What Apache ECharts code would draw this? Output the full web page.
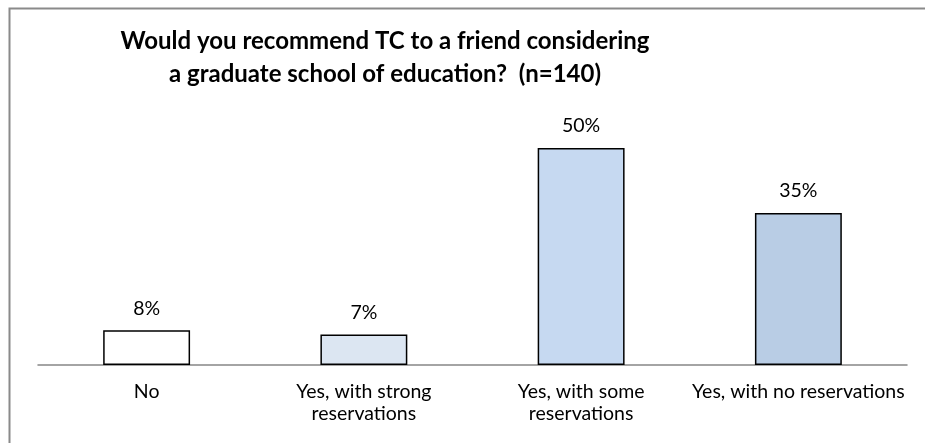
<!DOCTYPE html>
<html>
<head>
<meta charset="utf-8">
<script src="https://cdn.jsdelivr.net/npm/echarts@6/dist/echarts.min.js"></script>
<style>
html,body{margin:0;padding:0;background:#fff;}
#chart{width:925px;height:443px;}
</style>
</head>
<body>
<div id="chart"></div>
<script>
const categories = ['No', 'Yes, with strong\nreservations', 'Yes, with some\nreservations', 'Yes, with no reservations'];
const values = [8, 7, 50, 35];
const barColors = ['#ffffff', '#dce6f2', '#c6d9f1', '#b9cde5'];
const titleLines = ['Would you recommend TC to a friend considering', 'a graduate school of education?  (n=140)'];

const chart = echarts.init(document.getElementById('chart'), null, {renderer: 'canvas'});
const font = 'Lato, Open Sans, sans-serif';
chart.setOption({
  animation: false,
  backgroundColor: '#ffffff',
  graphic: [{
    type: 'rect', left: 7, top: 6, silent: true,
    shape: {width: 940, height: 460},
    style: {fill: 'none', stroke: '#8a8a8a', lineWidth: 2}
  }],
  title: {
    text: titleLines.join('\n'),
    left: 380, top: 20, textAlign: 'center',
    textStyle: {fontFamily: font, fontWeight: 'bold', fontSize: 24, lineHeight: 33, color: '#000'}
  },
  grid: {left: 38, right: 18, top: 104.6, bottom: 78},
  xAxis: {
    type: 'category', data: categories,
    axisLine: {lineStyle: {color: '#868686', width: 1.5}},
    axisTick: {show: false},
    axisLabel: {fontFamily: font, fontSize: 19.5, color: '#000', lineHeight: 22, margin: 16, interval: 0}
  },
  yAxis: {type: 'value', min: 0, max: 60, show: false, splitLine: {show: false}},
  series: [{
    type: 'bar', barWidth: '40%',
    data: values.map((v, i) => ({value: v, itemStyle: {color: barColors[i]}})),
    itemStyle: {borderColor: '#000', borderWidth: 1.5},
    label: {show: true, position: 'top', distance: 12, formatter: p => p.value + '%',
      fontFamily: font, fontSize: 19.5, color: '#000'}
  }]
});
</script>
</body>
</html>
